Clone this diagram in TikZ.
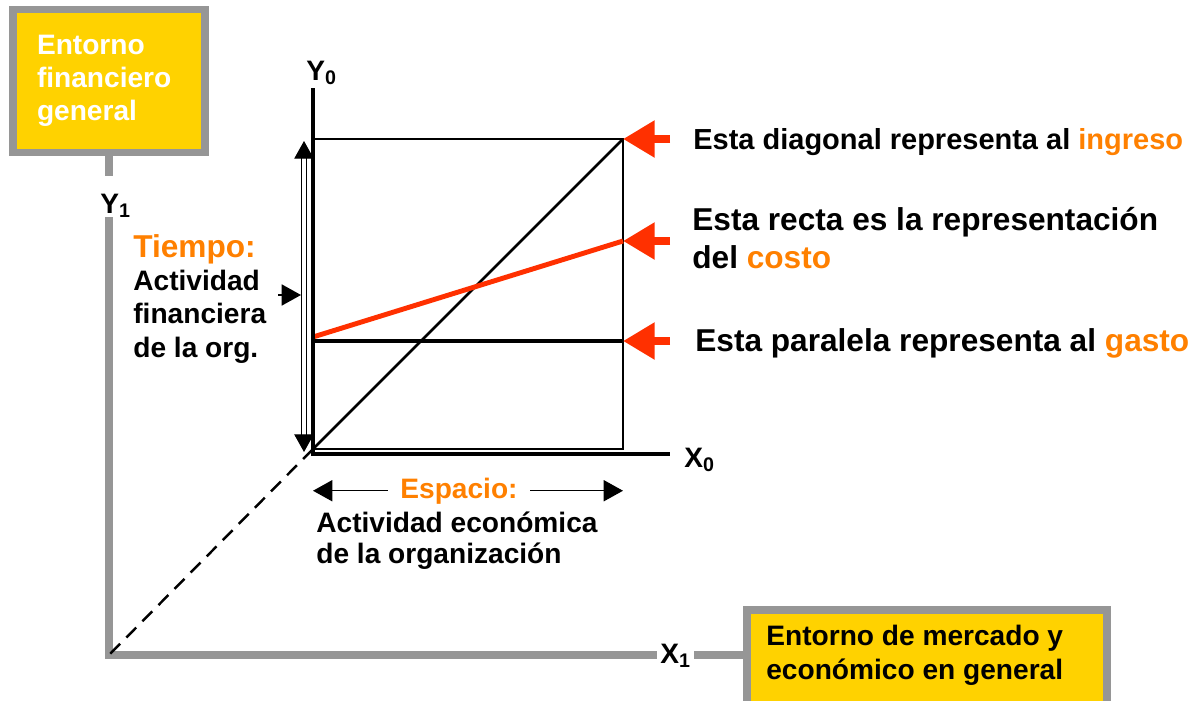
\documentclass[tikz,border=0pt]{standalone}
\usepackage{fontspec}
\setmainfont{Liberation Sans}
\usetikzlibrary{arrows.meta,positioning}
\definecolor{boxyellow}{RGB}{255,210,0}
\definecolor{boxgray}{RGB}{150,150,150}
\definecolor{tagorange}{RGB}{255,128,0}
\definecolor{arrowred}{RGB}{255,48,0}
\newcommand{\naranja}[1]{\textcolor{tagorange}{#1}}
\tikzset{
  lbl/.style      = {font=\bfseries\fontsize{16}{18.8}\selectfont, inner sep=0pt, align=left},
  biglbl/.style   = {lbl, font=\bfseries\fontsize{18}{21.6}\selectfont},
  axlbl/.style    = {font=\bfseries\fontsize{16}{18}\selectfont, inner sep=0pt},
  envbox/.style   = {lbl, draw=boxgray, line width=4.5pt, fill=boxyellow},
  grayline/.style = {draw=boxgray, line width=4pt},
  axisline/.style = {line width=2.8pt, line join=miter},
  thinline/.style = {line width=0.85pt},
  diagline/.style = {line width=1.5pt},
  dashline/.style = {line width=1.4pt, dash pattern=on 8pt off 5pt},
  costline/.style = {arrowred, line width=2.8pt},
  redarrow/.style = {arrowred, line width=5pt, -{Triangle[length=18pt,width=20pt]}},
  tip/.style      = {-{Triangle[length=11pt,width=12pt]}},
  dblarrow/.style = {line width=0.6pt, double=white, double distance=1.8pt,
                     {Triangle[length=10pt,width=11pt]}-{Triangle[length=10pt,width=11pt]}},
}
\begin{document}
\begin{tikzpicture}[x=0.02cm,y=-0.02cm]
  \path[use as bounding box] (0,0) rectangle (1197,700);
  \clip (0,0) rectangle (1197,700);

  % entornos
  \node[envbox, text=white, text width=2.88cm, minimum width=3.84cm, minimum height=2.86cm] (fin) at (109,81)
       {Entorno\\financiero\\general};
  \node[envbox, anchor=north west, minimum width=7.2cm, minimum height=2.4cm] (mkt) at (743,606) {};
  \node[lbl, anchor=base west] (mkttxt) at (766,679) {Entorno de mercado y\\económico en general};
  \node[axlbl, anchor=base west, text height=21pt, text depth=2.3pt] (y1) at (100,213) {Y\textsubscript{1}};
  \node[axlbl, anchor=base west, inner xsep=1.7pt] (x1) at (657,663) {X\textsubscript{1}};
  \coordinate (c1) at (109,655);
  \draw[grayline] (fin.south) -- (fin.south |- y1.north);
  \draw[grayline, line join=miter] (fin.south |- y1.south) -- (c1) -- (c1 -| x1.west);
  \draw[grayline] (c1 -| x1.east) -- (c1 -| mkt.west);

  % plano de la organizacion
  \coordinate (O) at (313,454);
  \coordinate (ytop) at (313,88);
  \coordinate (xend) at (670,454);
  \coordinate (sw) at (313,449);
  \coordinate (ne) at (623,139);
  \coordinate (costL) at (313,337);
  \coordinate (costR) at (623,241);
  \coordinate (gastoL) at (313,341);
  \coordinate (gastoR) at (623,341);
  \coordinate (tail) at (670,0);
  \draw[thinline] (sw) rectangle (ne);
  \draw[dashline] (sw) -- (c1);
  \draw[diagline] (sw) -- (ne);
  \draw[line width=2.3pt] (gastoL) -- (gastoR);
  \draw[costline] (costL) -- (costR);
  \draw[axisline] (ytop) -- (O) -- (xend);
  \node[axlbl, anchor=base west] (y0) at (306,80) {Y\textsubscript{0}};
  \node[axlbl, anchor=base west] (x0) at (684,467) {X\textsubscript{0}};
  \foreach \p in {ne, costR, gastoR}
     \draw[redarrow] (\p -| tail) -- (\p);

  % tiempo
  \coordinate (tT) at (304,141);
  \coordinate (tB) at (304,452);
  \coordinate (mq) at (278,295);
  \coordinate (mqtip) at (301,295);
  \draw[dblarrow] (tB) -- (tT);
  \draw[thinline, tip] (mq) -- (mqtip);
  \node[biglbl, anchor=base west] (tiempo) at (133,257) {\naranja{Tiempo:}};
  \node[lbl, anchor=base west] (actfin) at (133,357) {Actividad\\financiera\\de la org.};

  % espacio
  \node[lbl, anchor=base, inner xsep=7pt] (esp) at (459,498) {\naranja{Espacio:}};
  \draw[thinline, tip] (esp.west) -- (esp.west -| O);
  \draw[thinline, tip] (esp.east) -- (esp.east -| ne);
  \node[lbl, anchor=base west, font=\bfseries\fontsize{16}{17.6}\selectfont] (actecon) at (316,563)
       {Actividad económica\\de la organización};

  % textos de la derecha
  \node[lbl, anchor=base west, font=\bfseries\fontsize{16.5}{19}\selectfont] (ingreso) at (693,149)
       {Esta diagonal representa al \naranja{ingreso}};
  \node[biglbl, anchor=base west] (costo) at (692,268)
       {Esta recta es la representación\\del \naranja{costo}};
  \node[biglbl, anchor=base west] (gasto) at (695,351)
       {Esta paralela representa al \naranja{gasto}};
\end{tikzpicture}
\end{document}
